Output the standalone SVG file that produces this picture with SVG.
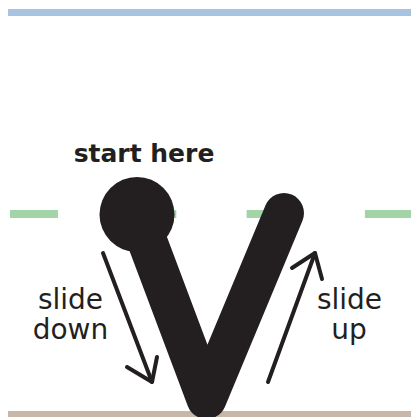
<svg xmlns="http://www.w3.org/2000/svg" width="411" height="417" viewBox="0 0 411 417">
<style>
.lbl{font-family:"DejaVu Sans","Noto Sans",sans-serif;font-size:28px;fill:#231f20;text-anchor:middle}
.title{font-family:"DejaVu Sans","Noto Sans",sans-serif;font-size:25px;font-weight:bold;fill:#231f20;text-anchor:middle}
.arrow{fill:none;stroke:#231f20;stroke-width:4;stroke-linecap:round;stroke-linejoin:round}
</style>
<rect x="8" y="9" width="403" height="7" fill="#a7c3e0"/>
<line x1="10" y1="214" x2="411" y2="214" stroke="#a3d4a8" stroke-width="8" stroke-dasharray="48 70.3"/>
<rect x="8" y="411" width="403" height="6" fill="#c8b6a8"/>
<g id="v-shape">
<polyline points="137,214 206.5,399 284,213" fill="none" stroke="#231f20" stroke-width="40" stroke-linecap="round" stroke-linejoin="round"/>
<circle cx="137" cy="214.5" r="37.5" fill="#231f20"/>
</g>
<g id="connectors">
<g id="arrow-down" class="arrow">
<line x1="103" y1="253" x2="152" y2="382"/>
<polyline points="127,367 152,382 157,357"/>
</g>
<g id="arrow-up" class="arrow">
<line x1="268" y1="382" x2="315" y2="253"/>
<polyline points="292,268 315,253 322,279"/>
</g>
</g>
<g id="start-label"><text class="title" x="144" y="162">start here</text></g>
<g id="down-label"><text class="lbl" x="70.5" y="309">slide</text><text class="lbl" x="70.5" y="339">down</text></g>
<g id="up-label"><text class="lbl" x="349.5" y="309">slide</text><text class="lbl" x="349" y="339">up</text></g>
</svg>
